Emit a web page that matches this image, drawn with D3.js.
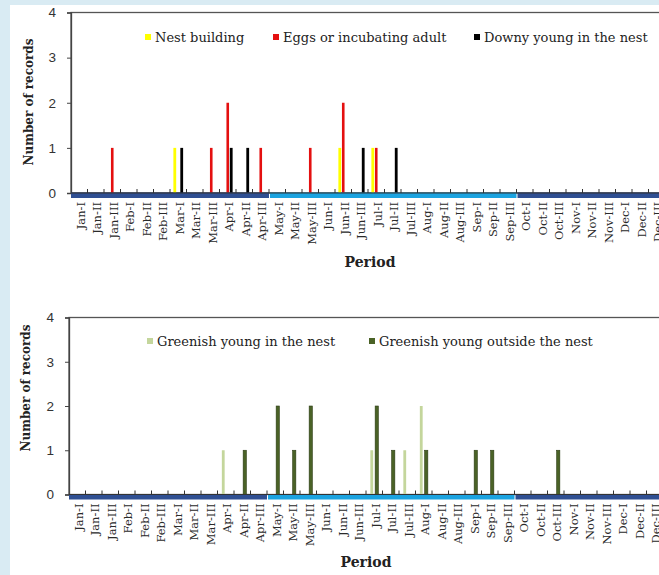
<!DOCTYPE html>
<html>
<head>
<meta charset="utf-8">
<script src="https://cdn.jsdelivr.net/npm/d3@7"></script>
<style>
  body { margin: 0; background: #d9ebf3; }
  svg { display: block; }
</style>
</head>
<body>
<svg id="chart" width="659" height="575"></svg>
<script>
// ten-day periods of the year
var periods = ["Jan-I","Jan-II","Jan-III","Feb-I","Feb-II","Feb-III","Mar-I","Mar-II","Mar-III",
  "Apr-I","Apr-II","Apr-III","May-I","May-II","May-III","Jun-I","Jun-II","Jun-III",
  "Jul-I","Jul-II","Jul-III","Aug-I","Aug-II","Aug-III","Sep-I","Sep-II","Sep-III",
  "Oct-I","Oct-II","Oct-III","Nov-I","Nov-II","Nov-III","Dec-I","Dec-II","Dec-III"];

// top panel series (one value per period)
var nestBuilding = [0,0,0, 0,0,0, 1,0,0, 0,0,0, 0,0,0, 0,1,0, 1,0,0, 0,0,0, 0,0,0, 0,0,0, 0,0,0, 0,0,0];
var eggsIncubating = [0,0,1, 0,0,0, 0,0,1, 2,0,1, 0,0,1, 0,2,0, 1,0,0, 0,0,0, 0,0,0, 0,0,0, 0,0,0, 0,0,0];
var downyYoung = [0,0,0, 0,0,0, 1,0,0, 1,1,0, 0,0,0, 0,0,1, 0,1,0, 0,0,0, 0,0,0, 0,0,0, 0,0,0, 0,0,0];

// bottom panel series
var greenishIn = [0,0,0, 0,0,0, 0,0,0, 1,0,0, 0,0,0, 0,0,0, 1,0,1, 2,0,0, 0,0,0, 0,0,0, 0,0,0, 0,0,0];
var greenishOut = [0,0,0, 0,0,0, 0,0,0, 0,1,0, 2,1,2, 0,0,0, 2,1,0, 1,0,0, 1,1,0, 0,0,1, 0,0,0, 0,0,0];

var yTicks = [0, 1, 2, 3, 4];

// season strip under the x axis
var seasonStart = ["Jan-I", "May-I", "Oct-I"];
var seasonEnd = ["Apr-III", "Sep-III", "Dec-III"];
var seasonColors = ["#2f4f92", "#1ba3e0", "#2f4f92"];

var svg = d3.select("#chart");

svg.append("rect")
  .attr("x", 10).attr("y", 5)
  .attr("width", 660).attr("height", 580)
  .attr("fill", "#ffffff");

var bandW = 16.5;

function drawPanel(cfg) {
  var g = svg.append("g");

  var x = d3.scaleBand()
    .domain(periods)
    .range([cfg.x0, cfg.x0 + bandW * periods.length])
    .paddingInner(0).paddingOuter(0);

  var y = d3.scaleLinear()
    .domain([0, 4])
    .range([cfg.yZero, cfg.yTop]);

  var inner = d3.scaleBand()
    .domain(cfg.series.map(function(s) { return s.name; }))
    .range(cfg.offsetRange);

  // plot frame
  g.append("rect")
    .attr("x", cfg.x0).attr("y", y(4))
    .attr("width", x.range()[1] - cfg.x0)
    .attr("height", cfg.yZero - y(4))
    .attr("fill", "none")
    .attr("stroke", "#555")
    .attr("stroke-width", 1.3);

  // y axis
  var yAxis = g.append("g")
    .attr("transform", "translate(" + cfg.x0 + ",0)")
    .call(d3.axisLeft(y).tickValues(yTicks).tickSize(4).tickPadding(11).tickFormat(d3.format("d")));
  yAxis.select(".domain").attr("stroke", "#444").attr("stroke-width", 1.3);
  yAxis.selectAll(".tick line").attr("stroke", "#444");
  yAxis.selectAll("text")
    .attr("font-family", "Liberation Sans, Arial, sans-serif")
    .attr("font-size", 13.5)
    .attr("fill", "#333");

  // bars
  cfg.series.forEach(function(s) {
    g.append("g").selectAll("rect")
      .data(s.values.map(function(v, i) { return { period: periods[i], value: v }; })
        .filter(function(d) { return d.value > 0; }))
      .enter()
      .append("rect")
        .attr("x", function(d) {
          return x(d.period) + x.bandwidth() / 2 + inner(s.name) + inner.bandwidth() / 2 - s.width / 2;
        })
        .attr("y", function(d) { return y(d.value); })
        .attr("width", s.width)
        .attr("height", function(d) { return cfg.yZero - y(d.value); })
        .attr("fill", s.color)
        .attr("stroke", s.stroke || "none")
        .attr("stroke-width", 0.6);
  });

  // season strip
  g.append("g").selectAll("rect")
    .data(seasonStart.map(function(s, i) { return { from: s, to: seasonEnd[i], color: seasonColors[i] }; }))
    .enter()
    .append("rect")
      .attr("x", function(d) { return x(d.from) + (d.from === periods[0] ? 0 : 1); })
      .attr("y", cfg.yZero - 0.5)
      .attr("width", function(d) { return x(d.to) + x.bandwidth() - x(d.from) - (d.from === periods[0] ? 0 : 1); })
      .attr("height", 5.5)
      .attr("fill", function(d) { return d.color; });

  // x axis line and ticks at period boundaries
  g.append("line")
    .attr("x1", cfg.x0).attr("x2", x.range()[1])
    .attr("y1", cfg.yZero).attr("y2", cfg.yZero)
    .attr("stroke", "#333").attr("stroke-width", 1);
  g.append("g").selectAll("line")
    .data(periods)
    .enter()
    .append("line")
      .attr("x1", function(d) { return x(d) + x.bandwidth(); })
      .attr("x2", function(d) { return x(d) + x.bandwidth(); })
      .attr("y1", cfg.yZero - 4).attr("y2", cfg.yZero)
      .attr("stroke", "#333").attr("stroke-width", 1);

  // period labels
  g.append("g").selectAll("text")
    .data(periods)
    .enter()
    .append("text")
      .attr("transform", function(d) {
        return "translate(" + (x(d) + x.bandwidth() / 2 + 1.5) + "," + (cfg.yZero + 9) + ") rotate(-90)";
      })
      .attr("text-anchor", "end")
      .attr("dy", "0.35em")
      .attr("font-family", "DejaVu Serif, serif")
      .attr("font-size", 11.5)
      .attr("fill", "#2a2a2a")
      .text(function(d) { return d; });

  // axis titles
  g.append("text")
    .attr("transform", "translate(" + cfg.titleX + "," + cfg.titleY + ") rotate(-90)")
    .attr("text-anchor", "middle")
    .attr("font-family", "DejaVu Serif, serif")
    .attr("font-weight", "bold")
    .attr("font-size", 12)
    .attr("fill", "#222")
    .text("Number of records");

  g.append("text")
    .attr("x", cfg.periodX).attr("y", cfg.periodY)
    .attr("text-anchor", "middle")
    .attr("font-family", "DejaVu Serif, serif")
    .attr("font-weight", "bold")
    .attr("font-size", 14)
    .attr("fill", "#222")
    .text("Period");

  // legend
  var leg = g.append("g").selectAll("g")
    .data(cfg.series)
    .enter()
    .append("g")
      .attr("transform", function(d, i) { return "translate(" + cfg.legendX[i] + "," + cfg.legendY + ")"; });
  leg.append("rect")
    .attr("x", -3).attr("y", -3)
    .attr("width", 6).attr("height", 6)
    .attr("fill", function(d) { return d.color; });
  leg.append("text")
    .attr("x", 7).attr("dy", "0.35em")
    .attr("font-family", "DejaVu Serif, serif")
    .attr("font-size", 13)
    .attr("fill", "#222")
    .text(function(d) { return d.name; });
}

drawPanel({
  x0: 71, yTop: 12.5, yZero: 193,
  offsetRange: [-5.2, 5.2],
  series: [
    { name: "Nest building", values: nestBuilding, color: "#ffff00", width: 2.8 },
    { name: "Eggs or incubating adult", values: eggsIncubating, color: "#e41010", width: 2.6 },
    { name: "Downy young in the nest", values: downyYoung, color: "#000000", width: 2.8 }
  ],
  legendX: [148, 276, 477], legendY: 37,
  titleX: 33, titleY: 102,
  periodX: 370, periodY: 267
});

drawPanel({
  x0: 69, yTop: 317.5, yZero: 494.5,
  offsetRange: [-5, 5],
  series: [
    { name: "Greenish young in the nest", values: greenishIn, color: "#c4d69c", width: 2.8 },
    { name: "Greenish young outside the nest", values: greenishOut, color: "#4a6226", stroke: "#2c3c14", width: 3.2 }
  ],
  legendX: [150, 372], legendY: 341,
  titleX: 30, titleY: 388,
  periodX: 366, periodY: 567
});
</script>
</body>
</html>
